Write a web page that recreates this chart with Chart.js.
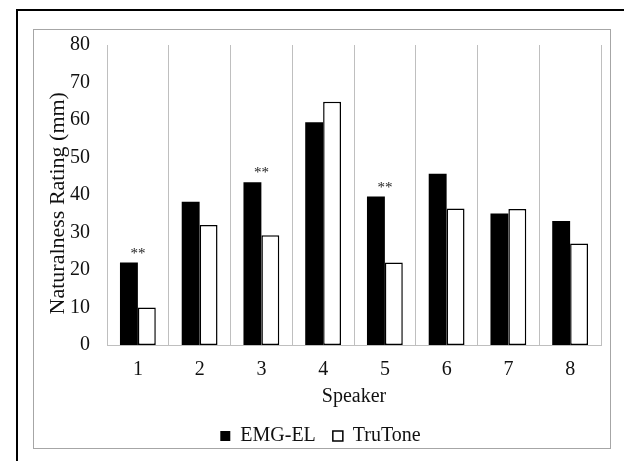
<!DOCTYPE html>
<html>
<head>
<meta charset="utf-8">
<script src="https://cdn.jsdelivr.net/npm/chart.js@4"></script>
<style>
    body { margin: 0; background: #fff; overflow: hidden; }
    #outer { position: absolute; left: 16px; top: 9px; width: 700px; height: 600px; border: 2px solid #000; }
    #inner { position: absolute; left: 33px; top: 29px; width: 576px; height: 418px; border: 1.5px solid #a6a6a6; }
    #wrap { position: absolute; left: 0; top: 0; width: 624px; height: 461px; }
</style>
</head>
<body>
<div id="outer"></div>
<div id="inner"></div>
<div id="wrap"><canvas id="chart" width="624" height="461"></canvas></div>
<script>
const speakers = ['1', '2', '3', '4', '5', '6', '7', '8'];
const emgEl = [22, 38.2, 43.4, 59.4, 39.6, 45.7, 35.1, 33.1];
const truTone = [10, 32, 29.3, 64.9, 22, 36.4, 36.3, 27.1];
const stars = ['**', '', '**', '', '**', '', '', ''];

const serif = '"Liberation Serif", "Times New Roman", serif';
const gridGray = '#bfbfbf';

// draw the ** above the EMG-EL bars
const starPlugin = {
    id: 'stars',
    afterDatasetsDraw(chart) {
        const ctx = chart.ctx;
        const x = chart.scales.x;
        const y = chart.scales.y;
        ctx.save();
        ctx.font = '15px ' + serif;
        ctx.fillStyle = '#222';
        ctx.textAlign = 'center';
        ctx.textBaseline = 'alphabetic';
        stars.forEach(function (s, i) {
            if (!s) return;
            ctx.fillText(s, x.getPixelForValue(i), y.getPixelForValue(emgEl[i]) - 5);
        });
        ctx.restore();
    }
};

const ctx = document.getElementById('chart').getContext('2d');
const chart = new Chart(ctx, {
    type: 'bar',
    data: {
        labels: speakers,
        datasets: [{
            label: 'EMG-EL',
            data: emgEl,
            backgroundColor: '#000',
            borderColor: '#000',
            borderWidth: 0
        }, {
            label: 'TruTone',
            data: truTone,
            backgroundColor: '#fff',
            borderColor: '#000',
            borderWidth: 1.5,
            borderSkipped: false
        }]
    },
    options: {
        responsive: false,
        animation: false,
        layout: { padding: { left: 40, right: 23, top: 45, bottom: 5 } },
        categoryPercentage: 0.58,
        barPercentage: 1,
        plugins: {
            legend: {
                position: 'bottom',
                labels: {
                    boxWidth: 10,
                    boxHeight: 10,
                    padding: 17,
                    color: '#111',
                    font: { family: serif, size: 20 }
                }
            },
            tooltip: { enabled: false }
        },
        scales: {
            x: {
                grid: { color: gridGray, offset: true, drawTicks: false },
                border: { color: gridGray },
                ticks: { color: '#111', padding: 13, font: { family: serif, size: 20 } },
                title: {
                    display: true,
                    text: 'Speaker',
                    color: '#111',
                    padding: 0,
                    font: { family: serif, size: 20 }
                },
                afterFit: function (s) { s.height = 64; }
            },
            y: {
                min: 0,
                max: 80,
                ticks: { stepSize: 10, color: '#111', padding: 17, font: { family: serif, size: 20 } },
                grid: { display: false, drawTicks: false },
                border: { display: true, color: gridGray },
                title: {
                    display: true,
                    text: 'Naturalness Rating (mm)\u00a0\u00a0\u00a0',
                    color: '#111',
                    padding: { top: 5, bottom: 0 },
                    font: { family: serif, size: 22 }
                },
                afterFit: function (s) { s.width = 67; }
            }
        }
    },
    plugins: [starPlugin]
});
</script>
</body>
</html>
